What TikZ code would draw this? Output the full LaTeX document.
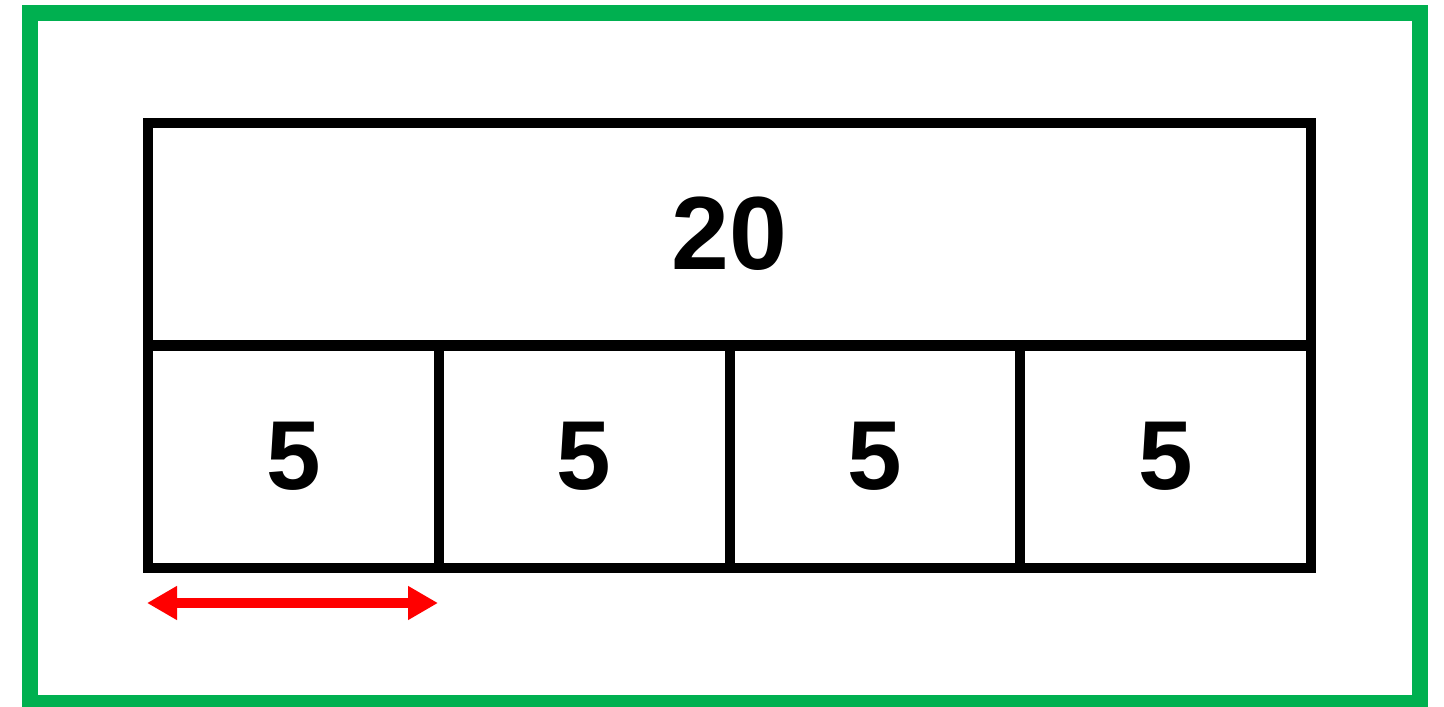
\documentclass[tikz,border=0pt]{standalone}
\usepackage{fontspec}
\setmainfont{Liberation Sans}
\usetikzlibrary{arrows.meta}
\definecolor{frame}{RGB}{0,176,80}
\tikzset{
  cell/.style={draw=black, line width=10pt, inner sep=0pt, minimum width=290.75pt, minimum height=222pt, font=\fontsize{98}{100}\selectfont\bfseries},
  topcell/.style={cell, minimum width=1163pt, font=\fontsize{104}{106}\selectfont\bfseries},
  measure/.style={draw=red, line width=10pt, {Triangle[width=32pt,length=30pt]}-{Triangle[width=32pt,length=30pt]}}
}
\begin{document}
\begin{tikzpicture}[x=1pt,y=-1pt]
\useasboundingbox (0,0) rectangle (1444,707);
\fill[white] (0,0) rectangle (1444,707);
\draw[frame, line width=16pt] (30,13) rectangle (1420,703);
\node[topcell] (t) at (729.5,234) {20};
\node[cell] (c1) at (293.375,456.5) {5};
\node[cell] (c2) at (584.125,456.5) {5};
\node[cell] (c3) at (874.875,456.5) {5};
\node[cell] (c4) at (1165.625,456.5) {5};
\coordinate (al) at (147,603);
\coordinate (ar) at (438,603);
\draw[measure] (al) -- (ar);
\end{tikzpicture}
\end{document}
